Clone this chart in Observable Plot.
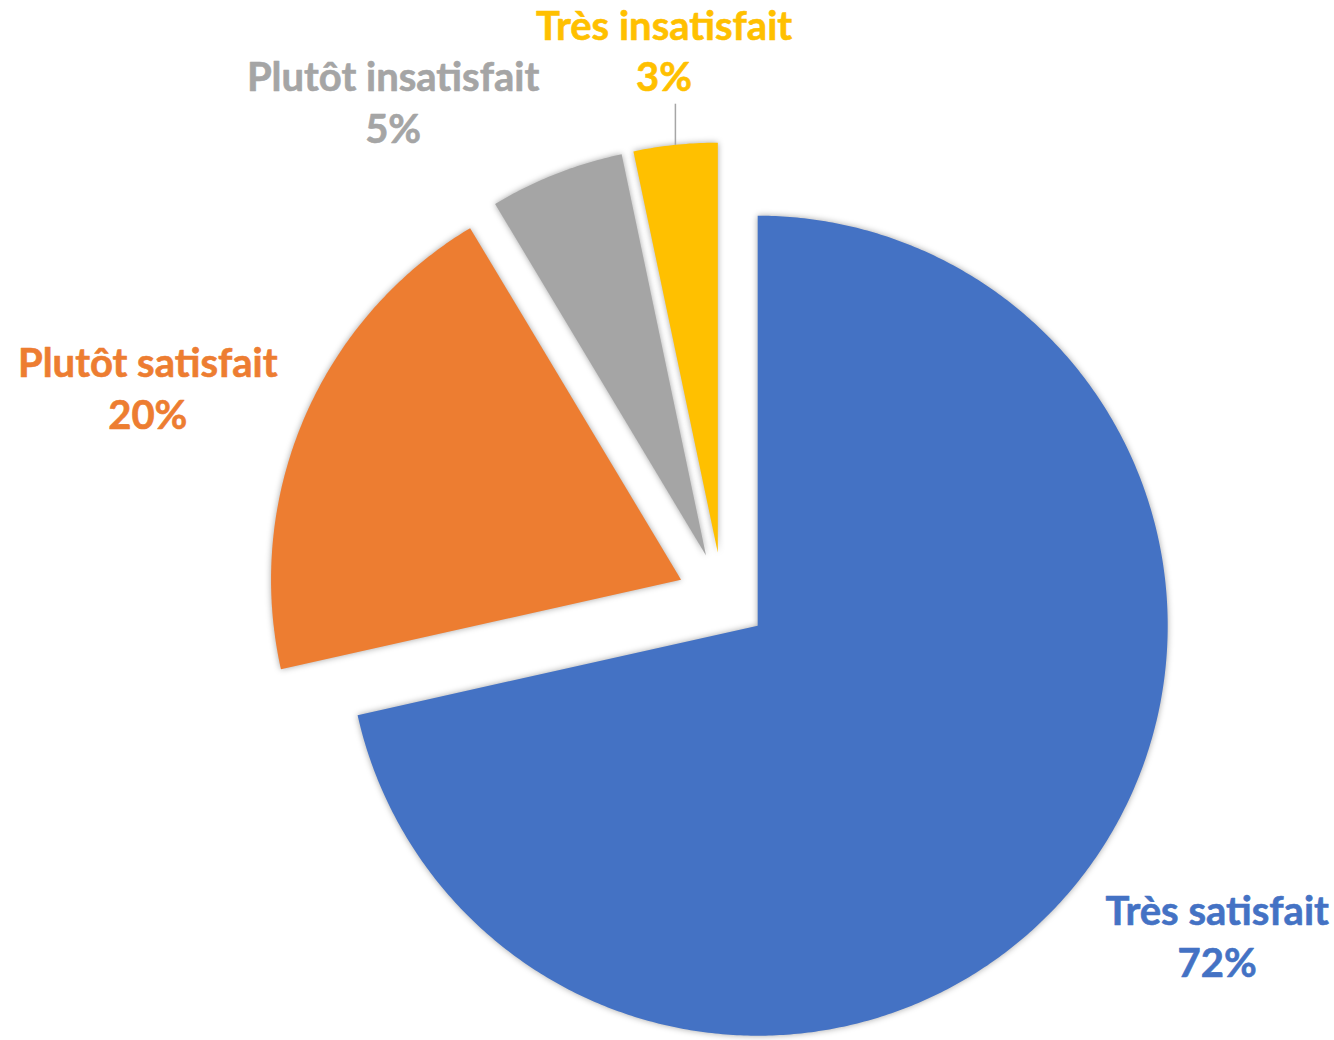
<!DOCTYPE html>
<html><head><meta charset="utf-8">
<script src="https://cdn.jsdelivr.net/npm/d3@7"></script>
<script src="https://cdn.jsdelivr.net/npm/@observablehq/plot@0.6"></script>
<style>
body{margin:0;background:#fff;}
.pie g[aria-label="line"] path{filter:drop-shadow(0px 0px 3px rgba(0,0,0,0.35));}
</style></head><body><div id="chart"></div>
<script>
// ---- data ----
const categories = ["Très satisfait", "Plutôt satisfait", "Plutôt insatisfait", "Très insatisfait"];
const values = [71.5, 19.9, 5.3, 3.3];
const colors = ["#4472C4", "#ED7D31", "#A5A5A5", "#FFC000"];

// ---- layout / style ----
const W = 1334, H = 1040, R = 410, cx = 722, cy = 597;
const explode = 0.11;                       // fraction of radius
const labelRadius = [1.355, 1.38, 1.34, 1.226];
const labelShift = [-4.5, -3.7, -13.3, -0.2]; // degrees
const leader = [false, false, false, true];

const deg = Math.PI / 180;
const arcs = d3.pie().sort(null).value(d => d)(values);
const rows = [], labels = [], leaders = [];
arcs.forEach((a, i) => {
  const cat = categories[i];
  const mid = (a.startAngle + a.endAngle) / 2;
  const ox = explode * Math.sin(mid), oy = explode * Math.cos(mid);
  rows.push({cat, x: ox, y: oy});
  const n = Math.max(4, Math.ceil((a.endAngle - a.startAngle) / deg * 2));
  for (let j = 0; j <= n; j++) {
    const t = a.startAngle + (a.endAngle - a.startAngle) * j / n;
    rows.push({cat, x: ox + Math.sin(t), y: oy + Math.cos(t)});
  }
  const la = mid + labelShift[i] * deg;
  const lx = ox + labelRadius[i] * Math.sin(la), ly = oy + labelRadius[i] * Math.cos(la);
  labels.push({cat, x: lx, y: ly, text: `${cat}\n${Math.round(values[i])}%`});
  if (leader[i]) {
    const sx = ox + Math.sin(mid), sy = oy + Math.cos(mid);
    leaders.push({x1: sx, y1: sy, x2: sx, y2: ly - 0.124});
  }
});

const chart = Plot.plot({
  width: W, height: H, margin: 0,
  className: "pie",
  style: {fontFamily: "Lato", background: "#fff"},
  x: {domain: [-cx / R, (W - cx) / R], axis: null},
  y: {domain: [-(H - cy) / R, cy / R], axis: null},
  color: {domain: categories, range: colors},
  marks: [
    Plot.line(rows, {x: "x", y: "y", z: "cat", fill: "cat", stroke: "none", curve: "linear-closed"}),
    Plot.link(leaders, {x1: "x1", y1: "y1", x2: "x2", y2: "y2", stroke: "#A6A6A6", strokeWidth: 1.5}),
    Plot.text(labels, {x: "x", y: "y", text: "text", fill: "cat", fontSize: 40, fontWeight: "bold",
      lineHeight: 1.3, lineAnchor: "middle", textAnchor: "middle", fontFamily: "Lato", dy: -4,
      stroke: "cat", strokeWidth: 0.6})
  ]
});
document.getElementById("chart").append(chart);
</script></body></html>
